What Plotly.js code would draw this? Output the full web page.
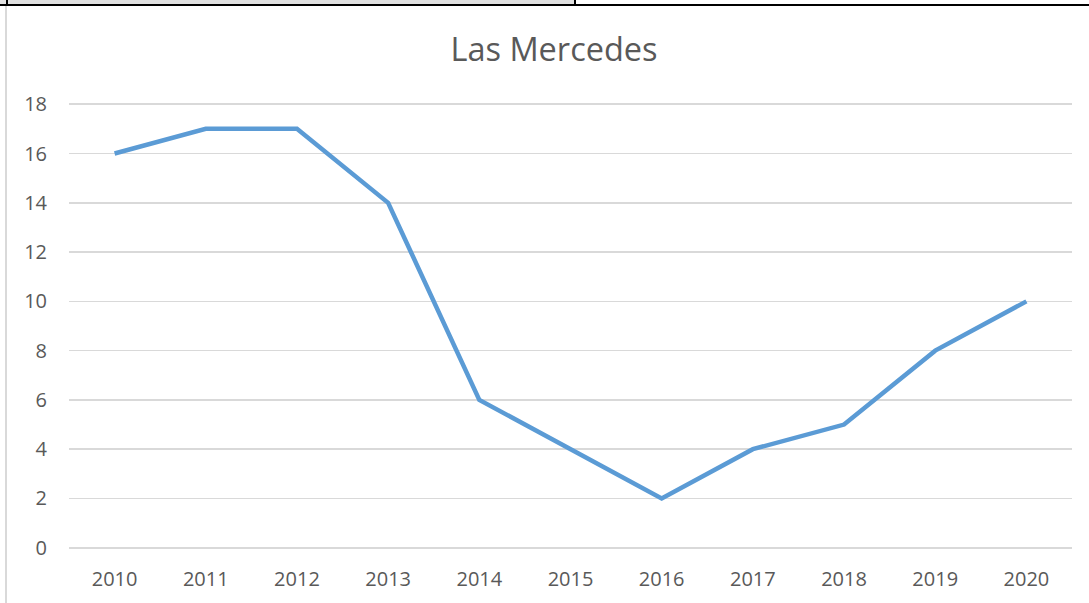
<!DOCTYPE html>
<html>
<head>
<meta charset="utf-8">
<script src="https://cdn.plot.ly/plotly-3.0.1.min.js"></script>
<style>
html,body{margin:0;padding:0;background:#fff;}
#wrap{position:relative;width:1089px;height:603px;overflow:hidden;}
#chart{position:absolute;left:0;top:0;width:1089px;height:603px;}
.deco{position:absolute;pointer-events:none;}
</style>
</head>
<body>
<div id="wrap">
<div id="chart"></div>
<div class="deco" style="left:0;top:0;width:574px;height:4px;background:#e0e0e0;border-bottom:2px solid #000;border-right:2px solid #000;"></div>
<div class="deco" style="left:6px;top:0;width:2px;height:4px;background:#000;"></div>
<div class="deco" style="left:576px;top:4px;width:513px;height:2px;background:#000;"></div>
<div class="deco" style="left:5px;top:6px;width:2px;height:597px;background:#d9d9d9;"></div>
</div>
<script>
var years = ['2010','2011','2012','2013','2014','2015','2016','2017','2018','2019','2020'];
var values = [16, 17, 17, 14, 6, 4, 2, 4, 5, 8, 10];
var yTicks = [0, 2, 4, 6, 8, 10, 12, 14, 16, 18];
var chartTitle = 'Las Mercedes';

var trace = {
  type: 'scatter',
  mode: 'lines',
  x: years,
  y: values,
  line: {color: '#5B9BD5', width: 4.5},
  hoverinfo: 'none'
};

var layout = {
  width: 1089,
  height: 603,
  margin: {l: 69, r: 17, t: 103, b: 54, pad: 0},
  paper_bgcolor: 'rgba(0,0,0,0)',
  plot_bgcolor: '#fff',
  showlegend: false,
  font: {family: 'Open Sans, Liberation Sans, sans-serif', color: '#595959'},
  title: {
    text: chartTitle,
    font: {size: 32.5, color: '#595959', family: 'Open Sans, sans-serif'},
    x: 554/1089, xanchor: 'center', xref: 'container',
    y: 1 - 50/603, yanchor: 'middle'
  },
  xaxis: {
    type: 'category',
    categoryorder: 'array',
    categoryarray: years,
    range: [-0.5, 10.5],
    showgrid: false,
    zeroline: false,
    showline: false,
    ticks: '',
    ticklabelstandoff: 16,
    tickfont: {size: 20, color: '#595959'}
  },
  yaxis: {
    range: [-0.05, 18.05],
    tickvals: yTicks,
    ticktext: yTicks.map(String),
    showgrid: true,
    gridcolor: '#d9d9d9',
    gridwidth: 1.5,
    zeroline: false,
    showline: false,
    ticks: '',
    ticklabelstandoff: 21,
    tickfont: {size: 20, color: '#595959'}
  }
};

Plotly.newPlot('chart', [trace], layout, {staticPlot: true, displayModeBar: false});
</script>
</body>
</html>
